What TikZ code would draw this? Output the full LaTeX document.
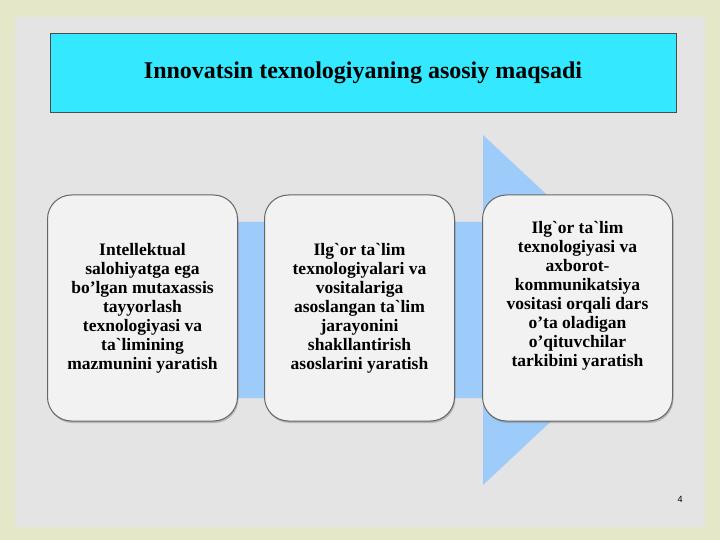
\documentclass[tikz,border=0pt]{standalone}
\usepackage{fontspec}
\setmainfont{Liberation Serif}
\newfontfamily\numfont{Liberation Sans}
\usetikzlibrary{positioning,shadows}
\definecolor{pagebg}{RGB}{228,232,201}
\definecolor{slidebg}{RGB}{228,228,228}
\definecolor{titlecyan}{RGB}{52,232,255}
\definecolor{arrowblue}{RGB}{158,204,250}
\definecolor{boxfill}{RGB}{242,242,242}
\newcommand{\gr}{\textasciigrave}
\tikzset{
    block/.style = {draw=gray!80!black, line width=1pt, fill=boxfill,
        rounded corners=24pt,
        minimum height=226pt,
        minimum width=190pt, align=center,
        font=\bfseries\fontsize{17.5}{19}\selectfont,
        drop shadow={shadow xshift=1pt, shadow yshift=-2pt, opacity=0.45}},
    titlebox/.style = {draw=gray!60!black, thin, fill=titlecyan,
        minimum width=626pt, minimum height=79pt,
        font=\bfseries\fontsize{24}{28}\selectfont},
    bigarrow/.style = {fill=arrowblue, draw=none}
}

\begin{document}
\begin{tikzpicture}[x=1pt, y=-1pt, node distance=26pt]
        \fill [pagebg] (0,0) rectangle (720,540);
        \fill [slidebg] (15,17) rectangle (705,527);
        \node [titlebox] (title) at (363,72.5) {Innovatsin texnologiyaning asosiy maqsadi};
        % arrow behind the boxes
        \fill [bigarrow] (60,222) -- (483,222) -- (483,135) -- (670,310)
            -- (483,485) -- (483,398) -- (60,398) -- cycle;
        \node [block] (aim1) at (142.5,308) {Intellektual\\salohiyatga ega\\bo’lgan mutaxassis\\tayyorlash\\texnologiyasi va\\ta\gr limining\\mazmunini yaratish};
        \node [block, right=of aim1] (aim2) {Ilg\gr or ta\gr lim\\texnologiyalari va\\vositalariga\\asoslangan ta\gr lim\\jarayonini\\shakllantirish\\asoslarini yaratish};
        \node [block, right=27pt of aim2] (aim3) {Ilg\gr or ta\gr lim\\texnologiyasi va\\axborot-\\kommunikatsiya\\vositasi orqali dars\\o’ta oladigan\\o’qituvchilar\\tarkibini yaratish\\[9pt]};
        \node [font=\numfont\fontsize{9}{10}\selectfont] (pagenum) at (680,499) {4};
\end{tikzpicture}
\end{document}
